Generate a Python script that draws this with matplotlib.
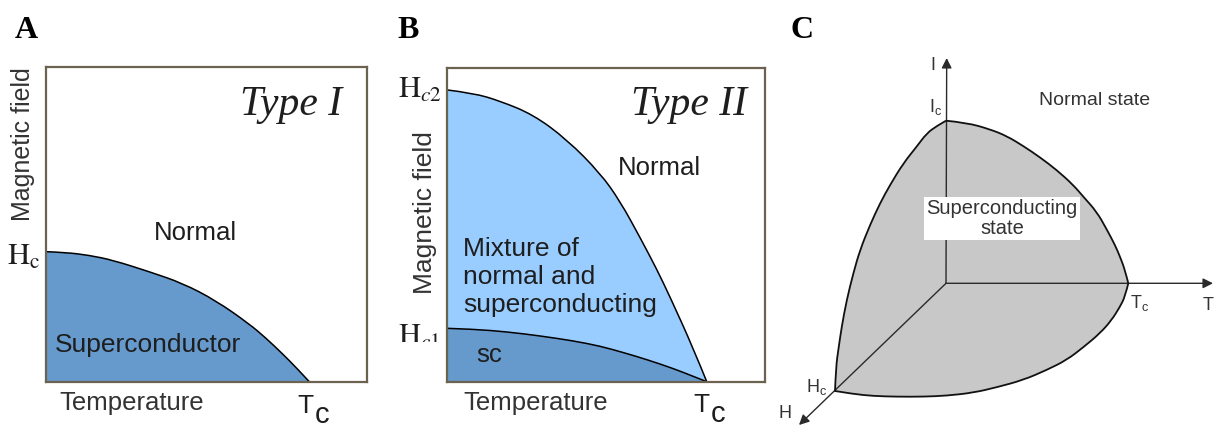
import numpy as np
import matplotlib

matplotlib.use("Agg")
import matplotlib.pyplot as plt
from matplotlib.path import Path
from matplotlib.patches import PathPatch
from matplotlib.transforms import Bbox, TransformedBbox

plt.rcParams["font.family"] = "Liberation Sans"
plt.rcParams["mathtext.fontset"] = "custom"
plt.rcParams["mathtext.rm"] = "Liberation Sans"
plt.rcParams["mathtext.it"] = "Liberation Sans:italic"

W, H = 1216, 428

# Type I: critical field vs temperature (T in units of Tc, H in units of Hc)
type1_t = [0.0, 0.076, 0.164, 0.253, 0.392, 0.519, 0.646, 0.772, 0.836, 0.899, 0.949, 1.0]
type1_h = [1.0, 0.994, 0.972, 0.935, 0.846, 0.757, 0.623, 0.444, 0.334, 0.213, 0.111, 0.0]

# Type II: upper and lower critical fields (H in units of Hc2)
hc2_t = [0.0, 0.102, 0.205, 0.333, 0.462, 0.590, 0.667, 0.743, 0.808, 0.859, 0.948, 1.0]
hc2_h = [1.0, 0.989, 0.962, 0.915, 0.830, 0.715, 0.618, 0.495, 0.385, 0.290, 0.115, 0.0]
hc1_t = [0.0, 0.102, 0.231, 0.359, 0.487, 0.590, 0.679, 0.769, 0.872, 0.949, 1.0]
hc1_h = [0.183, 0.180, 0.171, 0.157, 0.140, 0.122, 0.100, 0.076, 0.045, 0.018, 0.0]

# critical surface in the (T, I, H) sketch, projected onto the page
ic_tc_x = [0, 20.7, 44, 60.7, 77.3, 94, 110.7, 127.3, 137.3, 150.7, 160.7, 169, 174, 179, 182.3]
ic_tc_y = [162.6, 160.6, 154, 147.3, 137.3, 126, 113.3, 98.3, 86.6, 71.6, 54, 38.3, 26.6, 13.3, 0]
tc_hc_x = [182.3, 179, 174, 165.7, 154, 137.3, 120.7, 100.7, 77.3, 50.7, 27.3, 0.7, -22.7, -49.3, -72.7, -92.7, -111]
tc_hc_y = [0, -13.4, -23.4, -36.7, -50, -64, -76.7, -86.7, -96.7, -104, -109.4, -112.4, -113.4, -113.4, -112.7, -110.7, -107.7]
hc_ic_x = [-111, -110, -107.7, -104.3, -99.3, -92.7, -86, -76, -66, -56, -42.7, -29.3, -19.3, -9.3, 0]
hc_ic_y = [-107.7, -83.4, -66.7, -43.4, -16.7, 10, 33.3, 58.3, 80, 98.3, 120, 136.7, 150, 157.3, 162.6]
axis_names = ["I", "T", "H"]
axis_tip_x = [0.7, 267, -147]
axis_tip_y = [225.3, 0, -141.7]

BLUE = "#6699cc"
LIGHT_BLUE = "#99ccff"
FRAME = "#6b6250"
INK = "#1e1e1e"


def px_axes(fig, left, top, right, bottom):
    """Add axes from pixel edges measured from the top-left corner."""
    return fig.add_axes([left / W, 1 - bottom / H, (right - left) / W, (bottom - top) / H])


def frame(ax):
    ax.set_xticks([])
    ax.set_yticks([])
    for sp in ax.spines.values():
        sp.set_color(FRAME)
        sp.set_linewidth(1.6)


def smooth_segment(xs, ys):
    """Quadratic-Bezier vertices/codes running through a list of points (no MOVETO)."""
    pts = np.column_stack([xs, ys]).astype(float)
    verts, codes = [], []
    n = len(pts)
    for i in range(1, n - 1):
        end = pts[n - 1] if i == n - 2 else (pts[i] + pts[i + 1]) / 2
        verts += [pts[i], end]
        codes += [Path.CURVE3, Path.CURVE3]
    if n == 2:
        verts.append(pts[1])
        codes.append(Path.LINETO)
    return verts, codes


def curve_path(xs, ys):
    v, c = smooth_segment(xs, ys)
    return Path([(xs[0], ys[0])] + v, [Path.MOVETO] + c)


def area_path(xs, ys):
    """Region between a smooth curve and the zero line."""
    v, c = smooth_segment(xs, ys)
    verts = [(xs[0], 0), (xs[0], ys[0])] + v + [(xs[-1], 0), (xs[0], 0)]
    codes = [Path.MOVETO, Path.LINETO] + c + [Path.LINETO, Path.CLOSEPOLY]
    return Path(verts, codes)


def draw_boundary(ax, xs, ys, fill):
    ax.add_patch(PathPatch(area_path(xs, ys), fc=fill, ec="none", lw=0))


def tc_label(ax, x, y, dy):
    ax.text(x, y, "T", fontsize=19, color=INK, va="baseline", ha="left")
    ax.text(x + 0.066, y - dy, "c", fontsize=21, color=INK, va="baseline", ha="left")


fig = plt.figure(figsize=(W / 100, H / 100), dpi=100)

for lab, xp in zip(["A", "B", "C"], [15, 397, 790]):
    fig.text(xp / W, 1 - 38 / H, lab, fontsize=23, fontweight="bold",
             family="Liberation Serif", va="baseline", ha="left")

# A: Type I
ax = px_axes(fig, 46, 67, 367, 381.7)
draw_boundary(ax, type1_t, type1_h, BLUE)
ax.add_patch(PathPatch(curve_path(type1_t, type1_h), fc="none", ec="black", lw=1.1))
ax.set_xlim(0, 1.219)
ax.set_ylim(0, 2.42)
frame(ax)
ax.text(1.125, 2.05, "Type I", fontsize=30, style="italic", family="Liberation Serif",
        color=INK, ha="right", va="baseline")
ax.text(0.411, 1.09, "Normal", fontsize=18.5, color=INK, va="baseline")
ax.text(0.032, 0.231, "Superconductor", fontsize=19, color=INK, va="baseline")
ax.text(0.05, -0.218, "Temperature", fontsize=18.5, color="#333333", va="baseline")
tc_label(ax, 0.955, -0.243, 0.075)
ax.text(-0.086, 1.83, "Magnetic field", fontsize=18, color="#333333", rotation=90,
        ha="center", va="center")
ax.text(-0.148, 0.897, r"$\mathrm{H_c}$", fontsize=22, math_fontfamily="stix",
        color=INK, va="baseline")

# B: Type II
ax = px_axes(fig, 446.7, 68, 765, 381.7)
draw_boundary(ax, hc2_t, hc2_h, LIGHT_BLUE)
draw_boundary(ax, hc1_t, hc1_h, BLUE)
ax.add_patch(PathPatch(curve_path(hc2_t, hc2_h), fc="none", ec="black", lw=1.1))
ax.add_patch(PathPatch(curve_path(hc1_t, hc1_h), fc="none", ec="black", lw=1.1))
ax.set_xlim(0, 1.224)
ax.set_ylim(0, 1.075)
frame(ax)
ax.text(1.155, 0.914, "Type II", fontsize=30, style="italic", family="Liberation Serif",
        color=INK, ha="right", va="baseline")
ax.text(0.659, 0.709, "Normal", fontsize=18.5, color=INK, va="baseline")
ax.text(0.063, 0.24, "Mixture of\nnormal and\nsuperconducting", fontsize=19,
        color=INK, va="baseline", linespacing=1.2)
ax.text(0.115, 0.069, "sc", fontsize=18.5, color=INK, va="baseline")
ax.text(0.064, -0.097, "Temperature", fontsize=18.5, color="#333333", va="baseline")
tc_label(ax, 0.948, -0.104, 0.034)
ax.text(-0.083, 0.58, "Magnetic field", fontsize=19, color="#333333", rotation=90,
        ha="center", va="center")
ax.text(-0.187, 0.973, r"$\mathrm{H}_{c2}$", fontsize=22, math_fontfamily="stix",
        color=INK, va="baseline")
# the lower label is cut off just under its top half
hc1_lab = ax.text(-0.187, 0.126, r"$\mathrm{H}_{c1}$", fontsize=22, math_fontfamily="stix",
                  color=INK, va="baseline")
hc1_lab.set_clip_box(TransformedBbox(Bbox([[380 / W, 1 - 342 / H], [446 / W, 1 - 300 / H]]),
                                     fig.transFigure))
hc1_lab.set_clip_on(True)

# C: critical surface in T-I-H space
ax = px_axes(fig, 770, 40, 1216, 428)
ax.set_xlim(-176, 270)
ax.set_ylim(-144.7, 243.3)
ax.axis("off")
verts, codes = [(ic_tc_x[0], ic_tc_y[0])], [Path.MOVETO]
for xs, ys in [(ic_tc_x, ic_tc_y), (tc_hc_x, tc_hc_y), (hc_ic_x, hc_ic_y)]:
    v, c = smooth_segment(xs, ys)
    verts += v
    codes += c
surface = Path(verts, codes)
ax.add_patch(PathPatch(surface, fc="#c8c8c8", ec="none", zorder=1))
for name, tx, ty in zip(axis_names, axis_tip_x, axis_tip_y):
    ax.annotate("", xy=(tx, ty), xytext=(0, 0), zorder=2,
                arrowprops=dict(arrowstyle="-|>", color="#2a2a2a", lw=1.0,
                                mutation_scale=15, shrinkA=0, shrinkB=0))
ax.add_patch(PathPatch(surface, fc="none", ec="#111111", lw=1.3, zorder=3))

ax.text(56, 65, "Superconducting\nstate", fontsize=14.5, color="#333333", ha="center",
        va="center", linespacing=1.05, zorder=4,
        bbox=dict(boxstyle="square,pad=0.12", fc="white", ec="none"))
ax.text(149, 183, "Normal state", fontsize=14, color="#333333", ha="center", va="center")
ax.text(-13, 218, "I", fontsize=13, color="#333333", ha="center", va="center")
ax.text(-10, 176, r"$\mathrm{I_c}$", fontsize=13, color="#333333", ha="center", va="center")
ax.text(184, -10, r"$\mathrm{T_c}$", fontsize=13, color="#333333", ha="left", va="top")
ax.text(262, -22, "T", fontsize=13, color="#333333", ha="center", va="center")
ax.text(-129, -104, r"$\mathrm{H_c}$", fontsize=13, color="#333333", ha="center", va="center")
ax.text(-161, -130, "H", fontsize=13, color="#333333", ha="center", va="center")

fig.savefig("out.png", dpi=100)
